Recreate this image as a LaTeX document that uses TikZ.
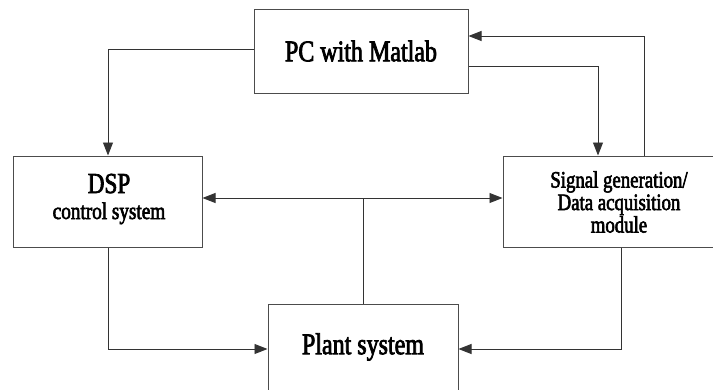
\documentclass[tikz,border=0pt]{standalone}
\usepackage{fontspec}
\setmainfont{Liberation Serif}[FakeStretch=0.8,FakeBold=2.5]
\usetikzlibrary{arrows.meta}
\begin{document}
\begin{tikzpicture}[x=1pt,y=-1pt,
  blk/.style={draw=black!70,line width=1pt,fill=white,inner sep=0pt},
  conn/.style={draw=black!80,line width=0.9pt},
  tip/.style={-{Triangle[length=13pt,width=10pt]}}]
\useasboundingbox (0,0) rectangle (713,389);
\clip (0,0) rectangle (713,389);
\node[blk,minimum width=214pt,minimum height=84pt] (pc) at (361,51) {\fontsize{30}{32}\selectfont PC with Matlab};
\node[blk,minimum width=189pt,minimum height=91pt] (dsp) at (107.5,201.5) {};
\node[align=center,font=\fontsize{24}{26}\selectfont] (dsplbl) at (109,199) {{\fontsize{29}{27}\selectfont DSP}\\control system};
\node[blk,minimum width=232pt,minimum height=91pt] (sig) at (619,201.5) {};
\node[align=center,font=\fontsize{23.5}{22.5}\selectfont] (siglbl) at (619,202) {Signal generation/\\Data acquisition\\module};
\node[blk,minimum width=190pt,minimum height=100pt,anchor=north] (plant) at (363,304) {};
\node (plantlbl) at (363,347) {\fontsize{30}{32}\selectfont Plant system};
\coordinate (j) at (363,198);
\draw[conn,tip] (pc.west |- 0,49) -| (dsp.north -| 108,0);
\draw[conn,tip] (sig.north -| 644,0) |- (pc.east |- 0,36);
\draw[conn,tip] (pc.east |- 0,66) -| (sig.north -| 598,0);
\draw[conn,{Triangle[length=13pt,width=10pt]}-{Triangle[length=13pt,width=10pt]}] (dsp.east |- j) -- (sig.west |- j);
\draw[conn] (j) -- (plant.north -| j);
\draw[conn,tip] (dsp.south -| 108,0) |- (plant.west |- 0,349);
\draw[conn,tip] (sig.south -| 621,0) |- (plant.east |- 0,349);
\end{tikzpicture}
\end{document}
